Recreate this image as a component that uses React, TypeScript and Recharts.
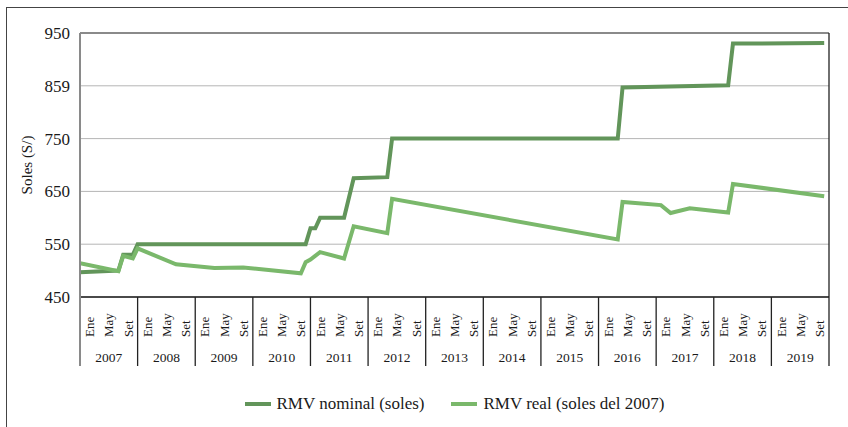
import React from 'react';
import { LineChart, Line, XAxis, YAxis, CartesianGrid, Legend, ReferenceLine } from 'recharts';

// month index: 0 = Ene 2007 ... 155 = Dic 2019
const nominalMonth = [0, 8, 9, 11, 12, 47, 48, 49, 50, 55, 57, 64, 65, 112, 113, 135, 136, 155];
const nominalValue = [497, 500, 530, 530, 550, 550, 580, 580, 600, 600, 675, 677, 750, 750, 847, 851, 930, 931];

const realMonth = [0, 8, 9, 11, 12, 20, 28, 34, 46, 47, 48, 50, 55, 57, 64, 65, 112, 113, 121, 123, 127, 135, 136, 155];
const realValue = [514, 499, 528, 523, 542, 512, 505, 506, 495, 516, 521, 535, 523, 584, 571, 636, 559, 630, 624, 609, 618, 610, 664, 641];

const years = ['2007', '2008', '2009', '2010', '2011', '2012', '2013', '2014', '2015', '2016', '2017', '2018', '2019'];
const monthLabels = ['Ene', 'May', 'Set'];
const yTicks = [450, 550, 650, 750, 850, 950];
const yTickLabels = ['450', '550', '650', '750', '859', '950'];

const nominalData = nominalMonth.map((m, i) => ({ m, v: nominalValue[i] }));
const realData = realMonth.map((m, i) => ({ m, v: realValue[i] }));

// each year: boundary, then Ene / May / Set label slots
const xTicks: number[] = [];
years.forEach((_, y) => {
  xTicks.push(y * 12, y * 12 + 2, y * 12 + 6, y * 12 + 10);
});
xTicks.push(years.length * 12);

const FONT = '"Liberation Serif", "Times New Roman", serif';

const CategoryTick = (props: any) => {
  const { x, y, payload } = props;
  const v = payload.value as number;
  const r = v % 12;
  const yr = Math.floor(v / 12);
  if (r === 0) {
    return <line x1={x} y1={y} x2={x} y2={y + 69} stroke={v === 0 ? '#8a8a8a' : '#222'} strokeWidth={v === 0 ? 2 : 1.3} />;
  }
  const label = monthLabels[(r - 2) / 4];
  return (
    <g>
      <text
        transform={`translate(${x},${y + 40}) rotate(-90)`}
        dy="0.35em"
        textAnchor="start"
        fontSize={13}
        fontFamily={FONT}
        fill="#1a1a1a"
      >
        {label}
      </text>
      {r === 6 && (
        <text x={x} y={y + 65} textAnchor="middle" fontSize={13.5} fontFamily={FONT} fill="#1a1a1a">
          {years[yr]}
        </text>
      )}
    </g>
  );
};

const renderLegend = (props: any) => {
  const { payload } = props;
  return (
    <div style={{ display: 'flex', justifyContent: 'center', fontFamily: FONT, fontSize: 17, color: '#1a1a1a' }}>
      {payload.map((p: any, i: number) => (
        <div key={i} style={{ display: 'flex', alignItems: 'center', marginRight: i === 0 ? 27 : 0 }}>
          <span style={{ display: 'inline-block', width: 26, height: 4, background: p.color, marginRight: 6 }} />
          <span>{p.value}</span>
        </div>
      ))}
    </div>
  );
};

const YTitle = (props: any) => {
  const { viewBox } = props;
  const cx = 27;
  const cy = viewBox.y + viewBox.height / 2;
  return (
    <text transform={`translate(${cx},${cy}) rotate(-90)`} textAnchor="middle" dy="0.35em" fontSize={15} fontFamily={FONT} fill="#1a1a1a">
      Soles (S/)
    </text>
  );
};

export default function App() {
  return (
    <div style={{ position: 'absolute', left: 0, top: 0, width: 848, height: 427, overflow: 'hidden', background: '#fff' }}>
      <div style={{ position: 'absolute', left: 6, top: 7, width: 900, height: 500, border: '1.5px solid #444' }} />
      <LineChart width={848} height={427} margin={{ top: 33, right: 19, bottom: 60, left: 0 }}>
        <CartesianGrid horizontal vertical={false} stroke="#b5b5b5" />
        <XAxis
          dataKey="m"
          type="number"
          domain={[0, 156]}
          ticks={xTicks}
          interval={0}
          height={70}
          tickLine={false}
          tickSize={0}
          tickMargin={0}
          tick={<CategoryTick />}
          axisLine={{ stroke: '#1a1a1a', strokeWidth: 1.5 }}
          allowDataOverflow
        />
        <YAxis
          type="number"
          domain={[450, 950]}
          ticks={yTicks}
          interval={0}
          width={80}
          tickLine={false}
          tickSize={8}
          tickMargin={2}
          tickFormatter={(v: number) => yTickLabels[yTicks.indexOf(v)]}
          tick={{ fontSize: 17, fill: '#1a1a1a', fontFamily: FONT }}
          axisLine={{ stroke: '#8a8a8a', strokeWidth: 2 }}
          label={<YTitle />}
        />
        <ReferenceLine y={950} stroke="#8a8a8a" strokeWidth={2} />
        <ReferenceLine x={156} stroke="#222" strokeWidth={1.3} />
        <Legend
          content={renderLegend}
          layout="horizontal"
          verticalAlign="middle"
          align="center"
          wrapperStyle={{ position: 'absolute', top: 394, left: 80, width: 749 }}
        />
        <Line
          data={nominalData}
          dataKey="v"
          name="RMV nominal (soles)"
          type="linear"
          stroke="#62955a"
          strokeWidth={4}
          dot={false}
          isAnimationActive={false}
        />
        <Line
          data={realData}
          dataKey="v"
          name="RMV real (soles del 2007)"
          type="linear"
          stroke="#7ab86b"
          strokeWidth={4}
          dot={false}
          isAnimationActive={false}
        />
      </LineChart>
    </div>
  );
}
